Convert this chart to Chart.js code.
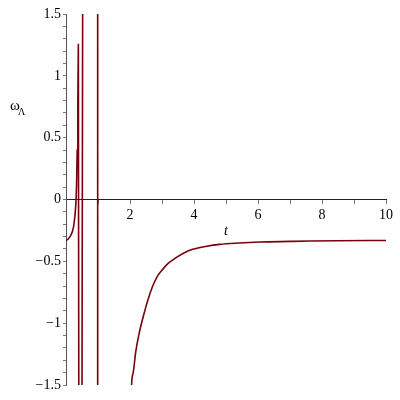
<!DOCTYPE html>
<html>
<head>
<meta charset="utf-8">
<script src="https://cdn.jsdelivr.net/npm/chart.js@4.4.1/dist/chart.umd.min.js"></script>
<style>
  html, body { margin: 0; padding: 0; background: #fff; }
</style>
</head>
<body>
<canvas id="omegaChart" width="400" height="400"></canvas>
<script>
// values (points outside -1.5..1.5 run off the frame and get clipped)
// first branch up to the pole near t = 1
const earlyT = [0, 0.05, 0.10, 0.15, 0.20, 0.24, 0.28, 0.31, 0.33, 0.35, 0.37, 0.386,
    0.407, 0.49, 0.53, 0.99, 0.99];
const earlyOmega = [-0.33, -0.325, -0.31, -0.29, -0.26, -0.215, -0.13, -0.03, 0.12, 0.40, 0.80, 1.26,
    -3, -3, 3, 3, -3];

// branch after the pole, levelling off towards -1/3
const lateT = [0.99, 1.95, 2.05, 2.10, 2.18, 2.28, 2.39, 2.55, 2.71, 2.86, 3.02, 3.20, 3.44, 3.70, 3.96,
    4.40, 4.80, 5.40, 6.05, 7.00, 7.62, 8.50, 10];
const lateOmega = [-3, -3, -1.50, -1.40, -1.23, -1.09, -0.97, -0.82, -0.70, -0.62, -0.565, -0.515, -0.47, -0.43, -0.403,
    -0.378, -0.363, -0.352, -0.344, -0.339, -0.336, -0.333, -0.331];

const xLabelValues = [2, 4, 6, 8, 10];
const yLabelValues = [-1.5, -1, -0.5, 0, 0.5, 1, 1.5];

const serif = "'Liberation Serif', 'DejaVu Serif', serif";
const curveColor = '#78000E';

function fmt(v) {
    return v < 0 ? '\u2212' + Math.abs(v) : String(v);
}

function toPoints(xs, ys) {
    return xs.map((x, i) => ({ x: x, y: ys[i] }));
}

const axisTitles = {
    id: 'axisTitles',
    afterDraw(chart) {
        const c = chart.ctx;
        const area = chart.chartArea;
        c.save();
        c.fillStyle = '#000';
        c.textAlign = 'center';
        c.textBaseline = 'alphabetic';
        c.font = 'italic 14px ' + serif;
        c.fillText('t', (area.left + area.right) / 2, 235);
        c.textAlign = 'left';
        c.font = '15px ' + serif;
        c.fillText('\u03c9', 10, 110);
        c.font = '10px ' + serif;
        c.fillText('\u039b', 18, 115);
        c.restore();
    }
};

const ctx = document.getElementById('omegaChart').getContext('2d');

new Chart(ctx, {
    type: 'line',
    data: {
        datasets: [{
            data: toPoints(earlyT, earlyOmega),
            borderColor: curveColor,
            borderWidth: 1.6,
            pointRadius: 0,
            tension: 0,
            fill: false
        }, {
            data: toPoints(lateT, lateOmega),
            borderColor: curveColor,
            borderWidth: 1.6,
            pointRadius: 0,
            cubicInterpolationMode: 'monotone',
            fill: false
        }]
    },
    options: {
        responsive: false,
        animation: false,
        layout: {
            padding: { left: 0, top: 14, right: 14, bottom: 15 }
        },
        plugins: {
            legend: { display: false },
            tooltip: { enabled: false }
        },
        scales: {
            x: {
                type: 'linear',
                min: 0,
                max: 10,
                position: { y: 0 },
                grid: { drawOnChartArea: false, tickLength: 4, tickColor: '#777' },
                border: { color: '#222', width: 1 },
                ticks: {
                    stepSize: 1,
                    autoSkip: false,
                    maxRotation: 0,
                    padding: 3,
                    color: '#000',
                    font: { family: serif, size: 14 },
                    callback: v => xLabelValues.includes(v) ? String(v) : ''
                }
            },
            y: {
                type: 'linear',
                min: -1.5,
                max: 1.5,
                position: 'left',
                afterFit: scale => { scale.width = 66; },
                grid: { drawOnChartArea: false, tickLength: 3, tickColor: '#777' },
                border: { color: '#555', width: 1 },
                ticks: {
                    stepSize: 0.1,
                    autoSkip: false,
                    padding: 2,
                    color: '#000',
                    font: { family: serif, size: 14 },
                    callback: v => {
                        const r = Math.round(v * 10) / 10;
                        return yLabelValues.includes(r) ? fmt(r) : '';
                    }
                }
            }
        }
    },
    plugins: [axisTitles]
});
</script>
</body>
</html>
